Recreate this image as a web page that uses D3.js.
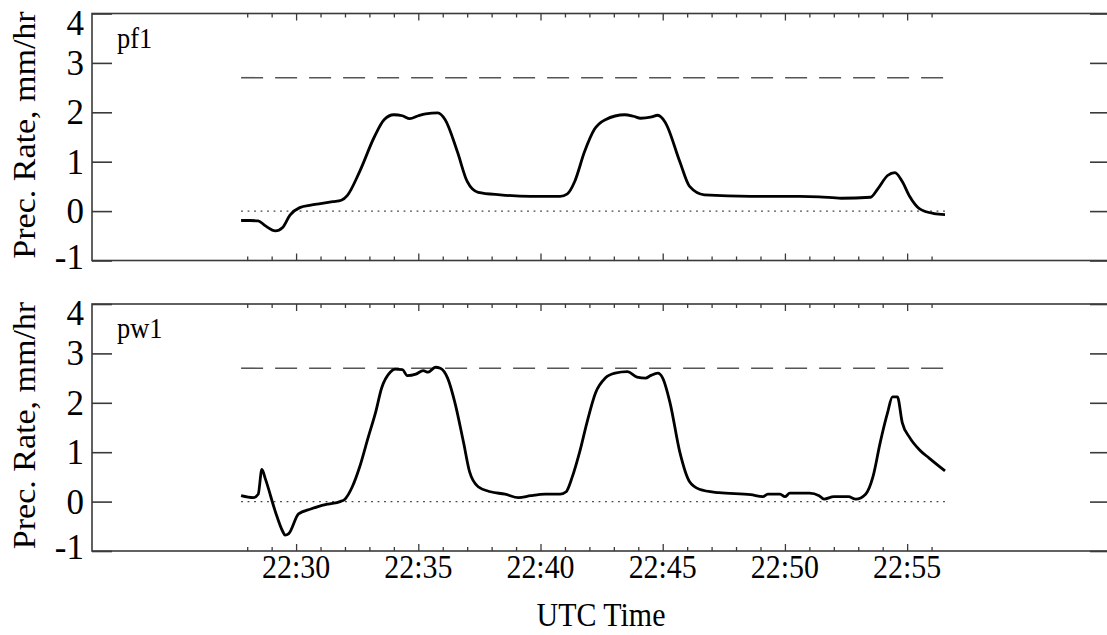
<!DOCTYPE html>
<html>
<head>
<meta charset="utf-8">
<script src="https://cdn.jsdelivr.net/npm/d3@7"></script>
<style>
  html, body { margin: 0; padding: 0; background: #fff; }
  svg text { font-family: "Liberation Serif", "Times New Roman", serif; fill: #000; }
</style>
</head>
<body>
<svg id="chart" width="1107" height="635"></svg>
<script>
// Time axis: minutes past 22:00 UTC
const axisStartMin = 21.65;
const axisEndMin = 63.3;
const tickStartMin = 28;
const tickEndMin = 56;

const yTicks = [-1, 0, 1, 2, 3, 4];
const thresholdValue = 2.7;

// pf1 precipitation rate (mm/hr)
const pf1Minutes = [27.75, 28.1, 28.45, 28.75, 29.15, 29.45, 29.75, 30.15, 30.6, 31.0, 31.5, 31.85, 32.1,
  32.6, 33.2, 33.6, 34.0, 34.35, 34.65, 35.0, 35.3, 35.8, 36.1, 36.6, 37.0, 37.45, 38.35, 39.6, 40.8,
  41.1, 41.4, 41.8, 42.2, 42.65, 43.45, 43.8, 44.1, 44.5, 44.8, 45.1, 45.7, 46.1, 46.7, 48.6, 50.6,
  51.4, 52.3, 53.5, 53.8, 54.2, 54.5, 54.8, 55.1, 55.5, 56.1, 56.55];
const pf1Values = [-0.19, -0.19, -0.2, -0.3, -0.4, -0.33, -0.08, 0.07, 0.12, 0.15, 0.19, 0.22, 0.32,
  0.8, 1.5, 1.85, 1.95, 1.93, 1.87, 1.93, 1.97, 1.99, 1.85, 1.2, 0.6, 0.38, 0.33, 0.3, 0.3,
  0.35, 0.6, 1.2, 1.65, 1.85, 1.95, 1.92, 1.88, 1.9, 1.94, 1.8, 1.0, 0.5, 0.33, 0.3, 0.3,
  0.29, 0.26, 0.28, 0.45, 0.72, 0.78, 0.6, 0.3, 0.05, -0.05, -0.07];

// pw1 precipitation rate (mm/hr)
const pw1Minutes = [27.75, 28.25, 28.45, 28.6, 28.75, 29.15, 29.45, 29.55, 29.7, 30.1, 30.6, 30.9, 31.3,
  31.8, 32.0, 32.3, 32.6, 32.95, 33.25, 33.5, 33.85, 34.05, 34.35, 34.55, 34.9, 35.2, 35.4, 35.7, 35.9,
  36.2, 36.5, 36.85, 37.1, 37.45, 37.95, 38.55, 39.1, 39.6, 40.2, 40.8, 41.05, 41.3, 41.6, 41.9, 42.25,
  42.65, 43.05, 43.55, 43.95, 44.3, 44.5, 44.8, 45.0, 45.3, 45.7, 46.1, 46.5, 47.3, 48.6, 49.1, 49.3,
  49.8, 50.0, 50.2, 51.0, 51.4, 51.6, 52.0, 52.6, 52.9, 53.3, 53.6, 53.9, 54.2, 54.4, 54.6, 54.8,
  55.1, 55.5, 55.9, 56.55];
const pw1Values = [0.12, 0.08, 0.15, 0.65, 0.45, -0.2, -0.6, -0.68, -0.65, -0.25, -0.15, -0.1, -0.05,
  0.0, 0.05, 0.3, 0.7, 1.3, 1.8, 2.3, 2.62, 2.68, 2.67, 2.55, 2.58, 2.65, 2.62, 2.72, 2.7,
  2.5, 2.0, 1.2, 0.6, 0.3, 0.2, 0.15, 0.08, 0.12, 0.15, 0.15, 0.2, 0.5, 1.0, 1.6, 2.2,
  2.5, 2.6, 2.63, 2.52, 2.5, 2.55, 2.6, 2.5, 2.0, 1.0, 0.4, 0.25, 0.18, 0.14, 0.1, 0.15,
  0.15, 0.1, 0.17, 0.17, 0.12, 0.05, 0.1, 0.1, 0.05, 0.15, 0.5, 1.2, 1.8, 2.12, 2.12, 1.6,
  1.3, 1.05, 0.88, 0.62];

const panels = [
  { name: "pf1", minutes: pf1Minutes, values: pf1Values, top: 13.5, bottom: 260.5 },
  { name: "pw1", minutes: pw1Minutes, values: pw1Values, top: 304, bottom: 551 }
];

const toDate = m => new Date(Date.UTC(2000, 0, 1, 22, 0, 0) + m * 60000);

const left = 92, right = 1110;
const frameColor = "#3a3a3a";
const fontSize = 34;
const squeeze = 0.88;

const svg = d3.select("#chart");

const x = d3.scaleUtc()
  .domain([toDate(axisStartMin), toDate(axisEndMin)])
  .range([left, right]);

const minuteTicks = d3.utcMinute.range(toDate(tickStartMin), toDate(tickEndMin + 0.01));
const isMajor = d => d.getUTCMinutes() % 5 === 0;
const fmt = d3.utcFormat("%H:%M");

// horizontal text, narrowed like the original lettering
function hText(g, tx, ty, str, anchor, size, sx = squeeze) {
  return g.append("text")
    .attr("transform", `translate(${tx},${ty}) scale(${sx},1)`)
    .attr("text-anchor", anchor)
    .attr("font-size", size)
    .text(str);
}

panels.forEach((p, i) => {
  const y = d3.scaleLinear().domain([-1, 4]).range([p.bottom, p.top]);
  const g = svg.append("g");

  // frame
  g.append("rect")
    .attr("x", left).attr("y", p.top)
    .attr("width", right - left).attr("height", p.bottom - p.top)
    .attr("fill", "none").attr("stroke", frameColor).attr("stroke-width", 1.6);

  // y ticks on both sides, drawn inward
  const yAxisL = d3.axisRight(y).tickValues(yTicks).tickSize(20).tickFormat("");
  const yAxisR = d3.axisLeft(y).tickValues(yTicks).tickSize(20).tickFormat("");
  [g.append("g").attr("transform", `translate(${left},0)`).call(yAxisL),
   g.append("g").attr("transform", `translate(${right},0)`).call(yAxisR)].forEach(a => {
    a.select(".domain").remove();
    a.selectAll("line").attr("stroke", frameColor).attr("stroke-width", 1.6);
  });

  // y tick labels
  yTicks.forEach(v => {
    let ty = y(v) + 12;
    if (v === 4) ty += 9;
    if (v === -1) ty -= 4;
    hText(g, 84, ty, String(v), "end", 35, 1);
  });

  // minute ticks on bottom (upward) and top (downward)
  const bottomAxis = d3.axisTop(x).tickValues(minuteTicks).tickFormat("").tickSizeOuter(0)
    .tickSizeInner(0);
  const bAx = g.append("g").attr("transform", `translate(0,${p.bottom})`).call(bottomAxis);
  bAx.select(".domain").remove();
  bAx.selectAll(".tick line")
    .attr("y2", d => isMajor(d) ? -7 : -4)
    .attr("stroke", frameColor).attr("stroke-width", 1.3);

  const topAxis = d3.axisBottom(x).tickValues(minuteTicks).tickFormat("").tickSizeOuter(0)
    .tickSizeInner(0);
  const tAx = g.append("g").attr("transform", `translate(0,${p.top})`).call(topAxis);
  tAx.select(".domain").remove();
  tAx.selectAll(".tick line")
    .attr("y2", d => isMajor(d) ? 7 : 4)
    .attr("stroke", frameColor).attr("stroke-width", 1.3);

  const x0 = x(toDate(p.minutes[0]));
  const x1 = x(toDate(p.minutes[p.minutes.length - 1]));

  // zero reference (dotted)
  g.append("line")
    .attr("x1", x0).attr("x2", x1)
    .attr("y1", y(0)).attr("y2", y(0))
    .attr("stroke", "#444").attr("stroke-width", 1.4)
    .attr("stroke-dasharray", "1.8,4.7");

  // threshold (long dashes)
  g.append("line")
    .attr("x1", x0).attr("x2", x1)
    .attr("y1", y(thresholdValue)).attr("y2", y(thresholdValue))
    .attr("stroke", "#555").attr("stroke-width", 1.6)
    .attr("stroke-dasharray", "22,12");

  // data curve
  const pts = p.minutes.map((m, k) => [toDate(m), p.values[k]]);
  const line = d3.line()
    .x(d => x(d[0])).y(d => y(d[1]))
    .curve(d3.curveMonotoneX);
  g.append("path")
    .datum(pts)
    .attr("d", line)
    .attr("fill", "none").attr("stroke", "#000")
    .attr("stroke-width", 2.8).attr("stroke-linejoin", "round");

  // panel label
  hText(g, 117, p.top + 34, p.name, "start", 30);

  // y axis title
  g.append("text")
    .attr("transform", `translate(35,${(p.top + p.bottom) / 2 - 2}) scale(0.92,1) rotate(-90)`)
    .attr("text-anchor", "middle")
    .attr("font-size", 34)
    .text("Prec. Rate, mm/hr");

  // time labels under lower panel
  if (i === panels.length - 1) {
    minuteTicks.filter(isMajor).forEach(d => {
      hText(g, x(d), p.bottom + 27, fmt(d), "middle", fontSize);
    });
    hText(g, (left + right) / 2, 626, "UTC Time", "middle", fontSize);
  }
});
</script>
</body>
</html>
